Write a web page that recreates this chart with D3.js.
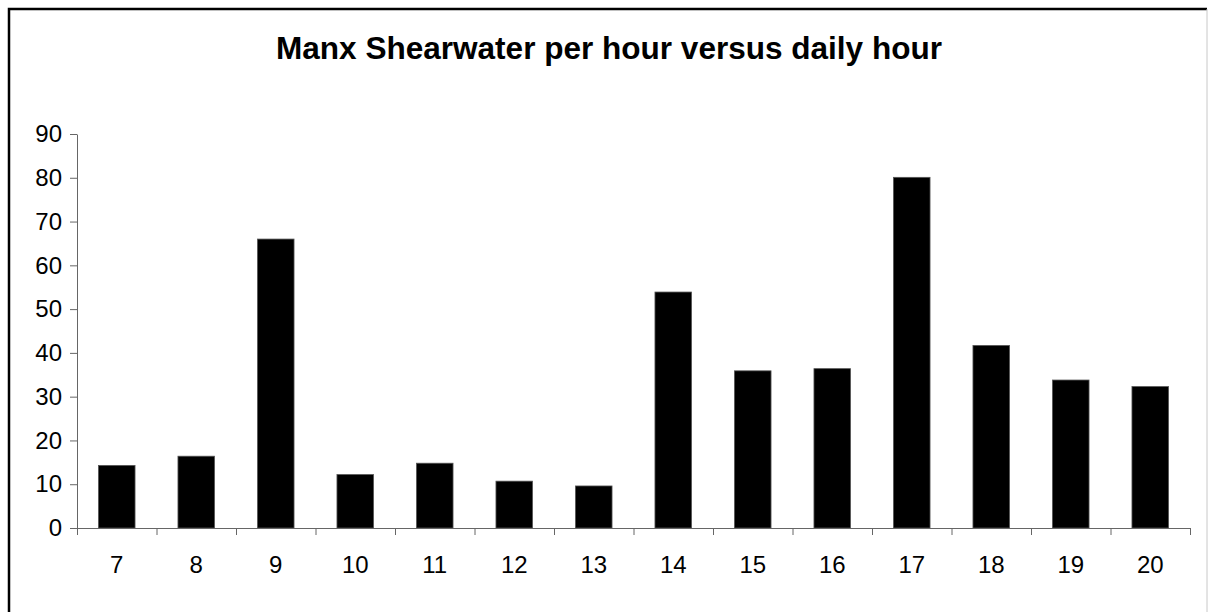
<!DOCTYPE html>
<html>
<head>
<meta charset="utf-8">
<script src="https://cdn.jsdelivr.net/npm/d3@7"></script>
<style>
  body { margin: 0; background: #fff; }
  svg text { font-family: "Liberation Sans", Arial, sans-serif; fill: #000; }
</style>
</head>
<body>
<svg class="chart" width="1208" height="612"></svg>
<script>
// hours of the day and birds counted per hour
var hours = ["7", "8", "9", "10", "11", "12", "13", "14", "15", "16", "17", "18", "19", "20"];
var perHour = [14.3, 16.4, 66.0, 12.2, 14.8, 10.7, 9.6, 53.9, 35.9, 36.4, 80.1, 41.7, 33.8, 32.3];
var yTicks = [0, 10, 20, 30, 40, 50, 60, 70, 80, 90];
var title = "Manx Shearwater per hour versus daily hour";

var svg = d3.select("svg.chart");

// frame round the chart (right edge is faint in the original)
svg.append("path")
    .attr("d", "M9,612 L9,9 L1207,9")
    .attr("fill", "none")
    .attr("stroke", "#000")
    .attr("stroke-width", 2.5);
svg.append("line")
    .attr("x1", 1207).attr("y1", 9).attr("x2", 1207).attr("y2", 612)
    .attr("stroke", "#c8c8c8")
    .attr("stroke-width", 1);

svg.append("text")
    .attr("x", 609)
    .attr("y", 59)
    .attr("text-anchor", "middle")
    .attr("font-size", 31)
    .attr("font-weight", "bold")
    .attr("textLength", 666)
    .attr("lengthAdjust", "spacingAndGlyphs")
    .text(title);

// plot area edges (not named top/left: those clash with window globals)
var plotL = 77, plotR = 1190, plotT = 134, plotB = 528;

var x = d3.scaleBand().domain(hours).range([plotL, plotR])
    .paddingInner(0.54).paddingOuter(0.27);
var xEdges = d3.scaleLinear().domain([0, hours.length]).range([plotL, plotR]);
var y = d3.scaleLinear().domain([0, 90]).range([plotB, plotT]);

//bars
svg.append("g")
    .selectAll("rect")
    .data(perHour)
    .enter()
    .append("rect")
        .attr("x", (d, i) => x(hours[i]))
        .attr("y", d => y(d))
        .attr("width", x.bandwidth())
        .attr("height", d => y(0) - y(d))
        .attr("fill", "#000")
        .attr("stroke", "#555")
        .attr("stroke-width", 0.8);

//y axis
var yAxis = svg.append("g")
    .attr("transform", `translate(${plotL},0)`)
    .call(d3.axisLeft(y).tickValues(yTicks).tickSize(7).tickPadding(8).tickSizeOuter(0));
yAxis.selectAll("text").attr("font-size", 24).attr("font-family", null);

//x axis: ticks on category edges, labels in the middle
svg.append("g")
    .attr("transform", `translate(0,${plotB})`)
    .call(d3.axisBottom(xEdges).tickValues(d3.range(hours.length + 1)).tickFormat("").tickSize(7).tickSizeOuter(0));
var xLabels = svg.append("g")
    .attr("transform", `translate(0,${plotB})`)
    .call(d3.axisBottom(x).tickSize(0).tickPadding(28));
xLabels.select(".domain").remove();
xLabels.selectAll("text").attr("font-size", 24).attr("font-family", null);

svg.selectAll(".domain, .tick line").attr("stroke", "#666");
</script>
</body>
</html>
